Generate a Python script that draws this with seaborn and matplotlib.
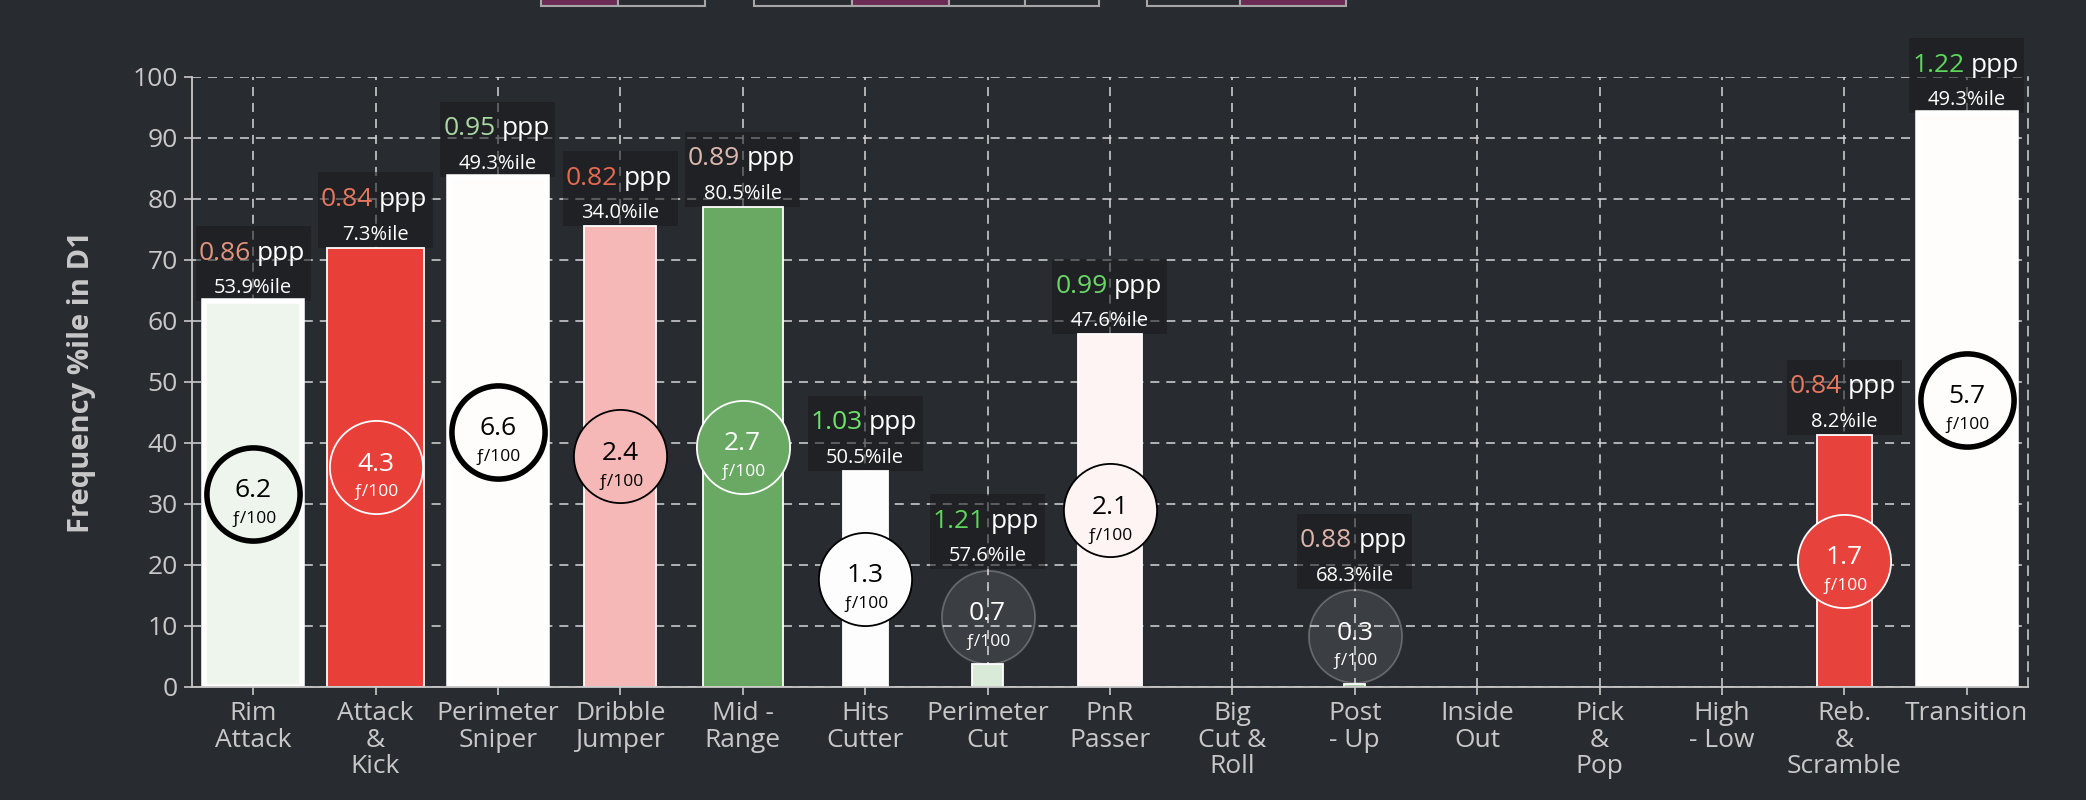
import numpy as np
import pandas as pd
import matplotlib
matplotlib.use("Agg")
import matplotlib.pyplot as plt
from matplotlib.colors import LinearSegmentedColormap, to_rgb
from matplotlib.patches import Rectangle
import seaborn as sns

# Constants
BG = "#282b30"
FG = "#c8c8c8"
GRID = "#d6d6d6"
DASH = (0, (6.5, 5))
OUTPUT_FILE = "out.png"

# Data: play types, frequency percentile (bar height), frequency per 100, ppp and ppp percentile
categories = ["Rim\nAttack", "Attack\n&\nKick", "Perimeter\nSniper", "Dribble\nJumper", "Mid -\nRange",
              "Hits\nCutter", "Perimeter\nCut", "PnR\nPasser", "Big\nCut &\nRoll", "Post\n- Up",
              "Inside\nOut", "Pick\n&\nPop", "High\n- Low", "Reb.\n&\nScramble", "Transition"]
freq_pctile = [63.2, 72.0, 83.6, 75.5, 78.7, 35.4, 3.7, 57.8, np.nan, 0.5, np.nan, np.nan, np.nan, 41.3, 94.0]
freq_per100 = [6.2, 4.3, 6.6, 2.4, 2.7, 1.3, 0.7, 2.1, np.nan, 0.3, np.nan, np.nan, np.nan, 1.7, 5.7]
ppp = [0.86, 0.84, 0.95, 0.82, 0.89, 1.03, 1.21, 0.99, np.nan, 0.88, np.nan, np.nan, np.nan, 0.84, 1.22]
ppp_pctile = [53.9, 7.3, 49.3, 34.0, 80.5, 50.5, 57.6, 47.6, np.nan, 68.3, np.nan, np.nan, np.nan, 8.2, 49.3]

# Text colour for each ppp value
ppp_colors = ["#e3937b", "#e6775f", "#a9d8a2", "#e8694f", "#dcb8ae", "#6ee36a", "#5ed85a", "#6bd866",
              BG, "#dcb4aa", BG, BG, BG, "#e8775f", "#5ed85a"]

sns.set_theme(style="dark", rc={
    "figure.facecolor": BG, "axes.facecolor": BG, "savefig.facecolor": BG,
    "axes.edgecolor": FG, "text.color": FG, "xtick.color": FG, "ytick.color": FG,
    "lines.scale_dashes": False,
})
plt.rcParams["font.family"] = ["Open Sans", "DejaVu Sans"]

fig = plt.figure(figsize=(20.86, 8), dpi=100)
ax = fig.add_axes([0.092, 0.1416, 0.8802, 0.7625])

# Colour of a bar follows its ppp percentile: red -> white (50) -> green
cmap = LinearSegmentedColormap.from_list("ppp", [(0, "#e41f18"), (0.5, "#ffffff"), (1, "#0b7401")])
bar_colors = [cmap(p / 100) if not np.isnan(p) else (1, 1, 1, 1) for p in ppp_pctile]

df = pd.DataFrame({"play": categories, "freq": np.nan_to_num(freq_pctile)})
sns.barplot(data=df, x="play", y="freq", hue="play", palette=bar_colors, legend=False,
            saturation=1, ax=ax, zorder=2)

# Bar width grows with frequency per 100
for patch in ax.patches:
    i = int(round(patch.get_x() + patch.get_width() / 2))
    f = freq_per100[i]
    if np.isnan(f):
        patch.set_visible(False)
        continue
    w = min(0.8, 0.11 + 0.2 * f)
    patch.set_x(i - w / 2)
    patch.set_width(w)
    patch.set_edgecolor("white")
    patch.set_linewidth(4 if f >= 5 else 1.3)

ax.set_xlim(-0.5, len(categories) - 0.5)
ax.set_ylim(0, 100)
ax.set_yticks(range(0, 101, 10))

# Circle geometry in data units
marker_s = 4500
px_per_unit = fig.get_figheight() * fig.dpi * 0.7625 / 100
r_data = (np.sqrt(marker_s) / 2 + 0.7) * fig.dpi / 72 / px_per_unit

for i, (h, f, v, vp) in enumerate(zip(freq_pctile, freq_per100, ppp, ppp_pctile)):
    if np.isnan(f):
        continue
    face = bar_colors[i]
    r, g, b = to_rgb(face)
    dark = (0.299 * r + 0.587 * g + 0.114 * b) < 0.6
    ink = "white" if dark else "black"
    lw = 4 if f >= 5 else 1.3
    edge = ink
    if f < 1:
        face, edge, ink, lw = (1, 1, 1, 0.09), (1, 1, 1, 0.25), "white", 1.3

    yc = h / 2 if h / 2 >= r_data else h + r_data
    ax.scatter([i], [yc], s=marker_s, facecolor=[face], edgecolor=[edge], linewidths=lw, zorder=4)
    ax.annotate(f"{f:.1f}", xy=(i, yc), xytext=(0, -2.5), textcoords="offset points",
                ha="center", va="baseline", fontsize=19, color=ink, zorder=5)
    ax.annotate("ƒ/100", xy=(i, yc), xytext=(0, -21), textcoords="offset points",
                ha="center", va="baseline", fontsize=12.5, color=ink, zorder=5)

    # ppp label box above the bar (or above the circle)
    base = h if h / 2 >= r_data else yc + r_data
    ax.add_patch(Rectangle((i - 0.47, base), 0.94, 12.3, facecolor="#18191c", alpha=0.55,
                           edgecolor="none", zorder=1.5, clip_on=False))
    ax.text(i - 0.02, base + 6.8, f"{v:.2f}", ha="right", va="baseline", fontsize=19,
            color=ppp_colors[i], zorder=3, clip_on=False)
    ax.text(i + 0.03, base + 6.8, "ppp", ha="left", va="baseline", fontsize=19,
            color="white", zorder=3, clip_on=False)
    ax.text(i, base + 1.3, f"{vp:.1f}%ile", ha="center", va="baseline", fontsize=14.5,
            color="white", zorder=3, clip_on=False)

# Axes styling
ax.set_axisbelow(True)
ax.grid(True, color=GRID, linestyle=DASH, linewidth=1.1)
for side in ["left", "bottom"]:
    ax.spines[side].set_visible(True)
    ax.spines[side].set_color(FG)
    ax.spines[side].set_linewidth(1.3)
ax.spines["top"].set_visible(False)
ax.spines["right"].set_visible(True)
ax.spines["right"].set_color(GRID)
ax.spines["right"].set_linestyle(DASH)
ax.spines["right"].set_linewidth(1.1)

ax.tick_params(axis="both", which="major", length=6, width=1.2, color=FG, labelcolor=FG,
               labelsize=19, bottom=True, left=True, pad=4)
ax.set_xlabel("")
ax.set_ylabel("Frequency %ile in D1", fontsize=21, fontweight="bold", color=FG)
ax.yaxis.set_label_coords(-0.052, 0.5)
for lab in ax.get_xticklabels():
    lab.set_linespacing(1.1)

# Clipped selector cells peeking in at the top edge
def top_cell(x0, x1, color):
    W, H = 2086, 800
    fig.add_artist(Rectangle((x0 / W, 1 - 6 / H), (x1 - x0) / W, 0.05, transform=fig.transFigure,
                             facecolor=color, edgecolor="#a6a6a6", linewidth=1.5, clip_on=False))

for x0, x1, c in [(541, 618, "#6b2b55"), (618, 705, BG),
                  (754, 852, BG), (852, 949, "#6b2b55"), (949, 1025, BG), (1025, 1099, BG),
                  (1147, 1240, BG), (1240, 1346, "#6b2b55")]:
    top_cell(x0, x1, c)

fig.savefig(OUTPUT_FILE, dpi=100, facecolor=BG)
